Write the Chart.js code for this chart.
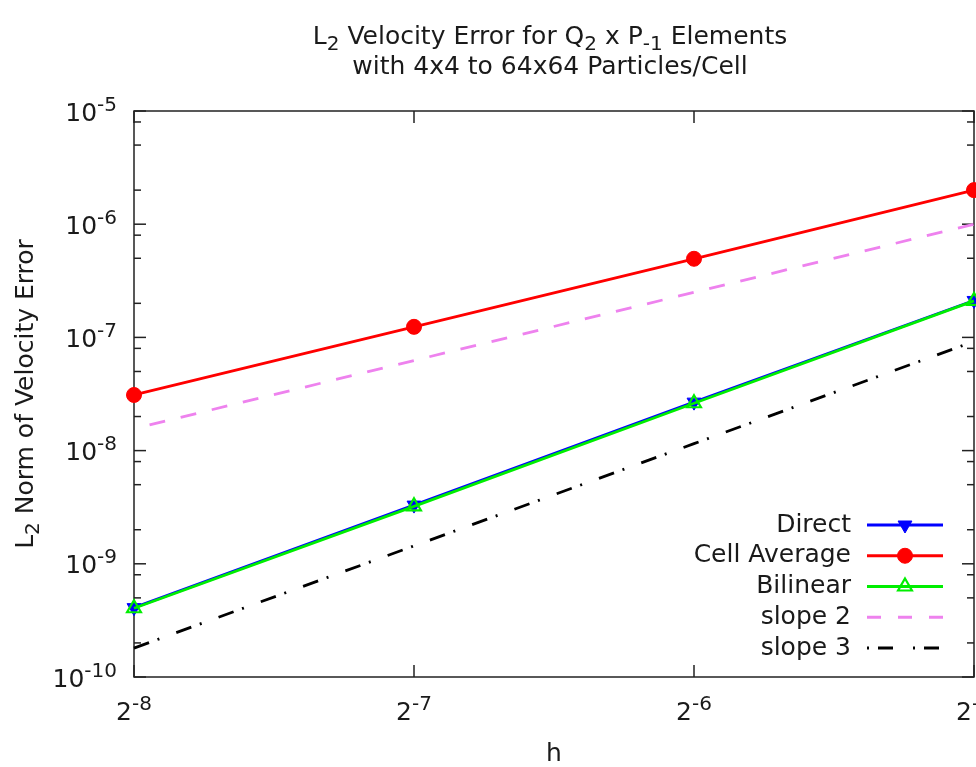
<!DOCTYPE html>
<html>
<head>
<meta charset="utf-8">
<script src="https://cdn.jsdelivr.net/npm/chart.js@4/dist/chart.umd.min.js"></script>
<style>
html,body{margin:0;padding:0;overflow:hidden;background:#fff;width:976px;height:767px}
canvas{display:block}
</style>
</head>
<body>
<canvas id="c" width="1100" height="767"></canvas>
<script>
// ---- data ----
const hValues      = [0.00390625, 0.0078125, 0.015625, 0.03125];   // 2^-8 .. 2^-5
const xTickLabels  = ['2^{-8}', '2^{-7}', '2^{-6}', '2^{-5}'];
const yTickValues  = [1e-10, 1e-9, 1e-8, 1e-7, 1e-6, 1e-5];
const yTickLabels  = ['10^{-10}', '10^{-9}', '10^{-8}', '10^{-7}', '10^{-6}', '10^{-5}'];
const yMinorFactors = [2, 5, 8];
const directErr    = [4.10e-10, 3.30e-9, 2.68e-8, 2.12e-7];
const cellAvgErr   = [3.10e-8, 1.24e-7, 4.95e-7, 2.00e-6];
const bilinearErr  = [4.05e-10, 3.22e-9, 2.62e-8, 2.10e-7];
const slope2Ref    = [1.5625e-8, 6.25e-8, 2.5e-7, 1.0e-6];
const slope3Ref    = [1.8e-10, 1.44e-9, 1.152e-8, 9.22e-8];
const seriesNames  = ['Direct', 'Cell Average', 'Bilinear', 'slope 2', 'slope 3'];
const titleLines   = ['L_2 Velocity Error for Q_2 x P_{-1} Elements', 'with 4x4 to 64x64 Particles/Cell'];
const xTitle = 'h';
const yTitle = 'L_2 Norm of Velocity Error';

const FONT = "'DejaVu Sans', sans-serif";
const FS = 25;
const TXT = '#1a1a1a';
Chart.defaults.font.family = FONT;
Chart.defaults.font.size = FS;
Chart.defaults.color = TXT;

const pts = arr => arr.map((v, i) => ({x: hValues[i], y: v}));

const datasets = [
  {label: seriesNames[0], data: pts(directErr), order: 5,
   borderColor: '#0000ff', backgroundColor: '#0000ff', borderWidth: 2.8,
   pointStyle: 'triangle', pointRotation: 180, pointRadius: 8, pointHoverRadius: 8,
   pointBackgroundColor: '#0000ff', pointBorderColor: '#0000ff', pointBorderWidth: 1,
   legendSample: {dash: []}},
  {label: seriesNames[1], data: pts(cellAvgErr), order: 4,
   borderColor: '#ff0000', backgroundColor: '#ff0000', borderWidth: 2.8,
   pointStyle: 'circle', pointRadius: 7.5, pointHoverRadius: 7.5,
   pointBackgroundColor: '#ff0000', pointBorderColor: '#ff0000', pointBorderWidth: 1,
   legendSample: {dash: []}},
  {label: seriesNames[2], data: pts(bilinearErr), order: 3,
   borderColor: '#00ee00', backgroundColor: 'rgba(0,0,0,0)', borderWidth: 2.8,
   pointStyle: 'triangle', pointRotation: 0, pointRadius: 8, pointHoverRadius: 8,
   pointBackgroundColor: 'rgba(0,0,0,0)', pointBorderColor: '#00ee00', pointBorderWidth: 2.2,
   legendSample: {dash: []}},
  {label: seriesNames[3], data: pts(slope2Ref), order: 2,
   borderColor: '#ee82ee', borderWidth: 2.8, borderDash: [16, 16], borderDashOffset: 16,
   pointRadius: 0, pointHoverRadius: 0,
   legendSample: {dash: [14, 17]}},
  {label: seriesNames[4], data: pts(slope3Ref), order: 1,
   borderColor: '#000000', borderWidth: 2.8, borderDash: [16, 9, 2, 18], borderDashOffset: 0,
   pointRadius: 0, pointHoverRadius: 0,
   legendSample: {dash: [2, 9, 15, 20]}}
];
datasets.forEach(d => { d.tension = 0; d.fill = false; d.clip = false; });

function strokeLine(ctx, x1, y1, x2, y2) {
  ctx.beginPath(); ctx.moveTo(x1, y1); ctx.lineTo(x2, y2); ctx.stroke();
}

// gnuplot-like enhanced text: _x / _{..} subscript, ^x / ^{..} superscript
function parseRich(s) {
  const segs = []; let i = 0, buf = '';
  while (i < s.length) {
    const c = s[i];
    if ((c === '_' || c === '^') && i + 1 < s.length) {
      if (buf) { segs.push({t: buf, k: 0}); buf = ''; }
      let t;
      if (s[i + 1] === '{') { const j = s.indexOf('}', i + 2); t = s.slice(i + 2, j); i = j + 1; }
      else { t = s[i + 1]; i += 2; }
      segs.push({t, k: c === '_' ? -1 : 1});
    } else { buf += c; i++; }
  }
  if (buf) segs.push({t: buf, k: 0});
  return segs;
}
function drawRich(ctx, s, x, y, align, rot) {
  const segs = parseRich(s);
  let w = 0;
  segs.forEach(g => {
    g.fs = g.k ? FS * 0.8 : FS;
    ctx.font = g.fs + 'px ' + FONT;
    g.w = ctx.measureText(g.t).width;
    w += g.w;
  });
  ctx.save();
  ctx.translate(x, y);
  if (rot) ctx.rotate(rot);
  ctx.textAlign = 'left';
  ctx.textBaseline = 'alphabetic';
  ctx.fillStyle = TXT;
  let cx = align === 'center' ? -w / 2 : (align === 'right' ? -w : 0);
  segs.forEach(g => {
    ctx.font = g.fs + 'px ' + FONT;
    const dy = g.k === 1 ? -0.4 * FS : (g.k === -1 ? 0.24 * FS : 0);
    ctx.fillText(g.t, cx, dy);
    cx += g.w;
  });
  ctx.restore();
}

const frameTicks = {
  id: 'frameTicks',
  beforeDatasetsDraw(chart) {
    const {ctx, chartArea: {left, right, top, bottom}, scales: {x, y}} = chart;
    ctx.save();
    ctx.strokeStyle = '#222';
    ctx.lineWidth = 1.5;
    ctx.setLineDash([]);
    yTickValues.forEach(v => {
      const py = y.getPixelForValue(v);
      strokeLine(ctx, left, py, left + 12, py);
      strokeLine(ctx, right, py, right - 12, py);
    });
    yTickValues.slice(0, -1).forEach(dec => {
      yMinorFactors.forEach(f => {
        const py = y.getPixelForValue(dec * f);
        strokeLine(ctx, left, py, left + 7, py);
        strokeLine(ctx, right, py, right - 7, py);
      });
    });
    hValues.forEach(v => {
      const px = x.getPixelForValue(v);
      strokeLine(ctx, px, bottom, px, bottom - 12);
      strokeLine(ctx, px, top, px, top + 12);
    });
    ctx.strokeRect(left, top, right - left, bottom - top);
    ctx.restore();
  }
};

const richLabels = {
  id: 'richLabels',
  afterDraw(chart) {
    const {ctx, chartArea: {left, right, top, bottom}, scales: {x, y}} = chart;
    // title
    const tx = (left + right) / 2 - 4;
    drawRich(ctx, titleLines[0], tx, top - 67.5, 'center', 0);
    drawRich(ctx, titleLines[1], tx, top - 37.5, 'center', 0);
    // y tick labels
    yTickValues.forEach((v, i) => {
      drawRich(ctx, yTickLabels[i], left - 17, y.getPixelForValue(v) + 9.5, 'right', 0);
    });
    // x tick labels
    hValues.forEach((v, i) => {
      drawRich(ctx, xTickLabels[i], x.getPixelForValue(v), bottom + 43, 'center', 0);
    });
    // y axis title
    drawRich(ctx, yTitle, 33, (top + bottom) / 2, 'center', -Math.PI / 2);
  }
};

function drawMarker(ctx, ds, cx, cy) {
  const style = ds.pointStyle;
  if (!style || !ds.pointRadius) return;
  const r = ds.pointRadius;
  ctx.save();
  ctx.setLineDash([]);
  ctx.lineWidth = ds.pointBorderWidth || 1;
  ctx.strokeStyle = ds.pointBorderColor;
  ctx.fillStyle = ds.pointBackgroundColor;
  ctx.beginPath();
  if (style === 'circle') {
    ctx.arc(cx, cy, r, 0, Math.PI * 2);
  } else if (style === 'triangle') {
    let rad = (ds.pointRotation || 0) * Math.PI / 180;
    ctx.moveTo(cx + Math.sin(rad) * r, cy - Math.cos(rad) * r);
    rad += Math.PI * 2 / 3;
    ctx.lineTo(cx + Math.sin(rad) * r, cy - Math.cos(rad) * r);
    rad += Math.PI * 2 / 3;
    ctx.lineTo(cx + Math.sin(rad) * r, cy - Math.cos(rad) * r);
    ctx.closePath();
  }
  ctx.fill();
  ctx.stroke();
  ctx.restore();
}

const insideLegend = {
  id: 'insideLegend',
  afterDatasetsDraw(chart) {
    const {ctx, chartArea: {right, bottom}} = chart;
    const textRight = right - 123;
    const x1 = right - 107, x2 = right - 31, xm = (x1 + x2) / 2;
    const rowStep = 30.75;
    const firstRow = bottom - 152;
    ctx.save();
    ctx.font = FS + 'px ' + FONT;
    ctx.textAlign = 'right';
    ctx.textBaseline = 'middle';
    chart.data.datasets.forEach((ds, i) => {
      const ry = firstRow + i * rowStep;
      ctx.fillStyle = TXT;
      ctx.fillText(ds.label, textRight, ry);
      ctx.strokeStyle = ds.borderColor;
      ctx.lineWidth = ds.borderWidth;
      ctx.lineCap = 'butt';
      ctx.setLineDash(ds.legendSample.dash);
      ctx.lineDashOffset = 0;
      strokeLine(ctx, x1, ry, x2, ry);
      drawMarker(ctx, ds, xm, ry);
    });
    ctx.restore();
  }
};

new Chart(document.getElementById('c'), {
  type: 'line',
  data: {datasets},
  options: {
    responsive: false,
    devicePixelRatio: 1,
    animation: false,
    events: [],
    layout: {padding: {top: 111, left: 0, right: 126, bottom: 0}},
    plugins: {
      legend: {display: false},
      tooltip: {enabled: false},
      title: {display: false}
    },
    scales: {
      x: {
        type: 'logarithmic', position: 'bottom',
        min: hValues[0], max: hValues[hValues.length - 1],
        afterBuildTicks: s => { s.ticks = hValues.map(v => ({value: v})); },
        afterFit: s => { s.height = 90; },
        grid: {display: false}, border: {display: false},
        ticks: {display: false},
        title: {display: true, text: xTitle, color: TXT, font: {size: FS, lineHeight: 1},
                padding: {top: 0, bottom: 0}}
      },
      y: {
        type: 'logarithmic', position: 'left',
        min: yTickValues[0], max: yTickValues[yTickValues.length - 1],
        afterBuildTicks: s => { s.ticks = yTickValues.map(v => ({value: v})); },
        afterFit: s => { s.width = 134; },
        grid: {display: false}, border: {display: false},
        ticks: {display: false},
        title: {display: false}
      }
    }
  },
  plugins: [frameTicks, insideLegend, richLabels]
});
</script>
</body>
</html>
